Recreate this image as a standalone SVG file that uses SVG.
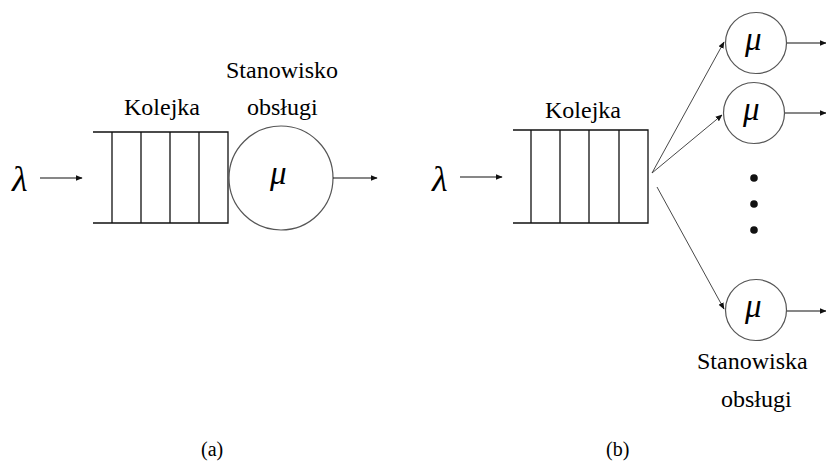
<svg xmlns="http://www.w3.org/2000/svg" width="826" height="463" viewBox="0 0 826 463" font-family="Liberation Serif, serif">
<defs>
<marker id="ah" viewBox="0 0 10 10" refX="9" refY="5" markerWidth="7" markerHeight="7" markerUnits="userSpaceOnUse" orient="auto">
<path d="M0,1 L10,5 L0,9 z" fill="#111"/>
</marker>
</defs>

<g id="part-a">
<g id="lambda-a"><text font-family="Liberation Serif, serif" font-style="italic" font-size="36" x="12" y="191">λ</text></g>
<g id="queue-a">
<path stroke="#111" stroke-width="1.3" fill="none" d="M93,132 H228 V223 H93 M112,132 V223 M141,132 V223 M170,132 V223 M199,132 V223"/>
<text font-family="Liberation Serif, serif" font-size="24" x="124" y="115">Kolejka</text>
</g>
<g id="server-a">
<circle stroke="#555" stroke-width="1.2" fill="#fff" cx="281" cy="178" r="52"/>
<text font-family="Liberation Serif, serif" font-style="italic" font-size="33" x="270" y="184">μ</text>
<text font-family="Liberation Serif, serif" font-size="24" x="226" y="78">Stanowisko</text>
<text font-family="Liberation Serif, serif" font-size="24" x="247" y="115">obsługi</text>
</g>
<g id="caption-a"><text font-family="Liberation Serif, serif" font-size="20" x="201" y="456">(a)</text></g>
</g>

<g id="part-b">
<g id="lambda-b"><text font-family="Liberation Serif, serif" font-style="italic" font-size="36" x="432" y="191">λ</text></g>
<g id="queue-b">
<path stroke="#111" stroke-width="1.3" fill="none" d="M513,130 H648 V223 H513 M531,130 V223 M560,130 V223 M589,130 V223 M619,130 V223"/>
<text font-family="Liberation Serif, serif" font-size="24" x="545" y="118">Kolejka</text>
</g>
<g id="server-b1">
<circle stroke="#555" stroke-width="1.2" fill="#fff" cx="756" cy="43" r="30.5"/>
<text font-family="Liberation Serif, serif" font-style="italic" font-size="33" x="745" y="50">μ</text>
</g>
<g id="server-b2">
<circle stroke="#555" stroke-width="1.2" fill="#fff" cx="754" cy="113" r="30.5"/>
<text font-family="Liberation Serif, serif" font-style="italic" font-size="33" x="743" y="120">μ</text>
</g>
<g id="dots" fill="#111">
<circle cx="754" cy="178" r="3.8"/>
<circle cx="754" cy="204" r="3.8"/>
<circle cx="754" cy="230" r="3.8"/>
</g>
<g id="server-b3">
<circle stroke="#555" stroke-width="1.2" fill="#fff" cx="756" cy="310" r="30.5"/>
<text font-family="Liberation Serif, serif" font-style="italic" font-size="33" x="745" y="317">μ</text>
<text font-family="Liberation Serif, serif" font-size="24" x="697" y="369">Stanowiska</text>
<text font-family="Liberation Serif, serif" font-size="24" x="721" y="407">obsługi</text>
</g>
<g id="caption-b"><text font-family="Liberation Serif, serif" font-size="20" x="606" y="456">(b)</text></g>
</g>

<g id="connectors" fill="none" stroke="#111" stroke-width="1.1" marker-end="url(#ah)">
<line x1="40" y1="178" x2="82" y2="178"/>
<line x1="333" y1="178" x2="377" y2="178"/>
<line x1="460" y1="177" x2="502" y2="177"/>
<line stroke="#333" stroke-width="0.9" x1="652" y1="173" x2="724" y2="42"/>
<line stroke="#333" stroke-width="0.9" x1="652" y1="173" x2="722" y2="115"/>
<line stroke="#333" stroke-width="0.9" x1="657" y1="187" x2="724" y2="309"/>
<line x1="787" y1="43" x2="826" y2="43"/>
<line x1="785" y1="113" x2="826" y2="113"/>
<line x1="787" y1="311" x2="826" y2="311"/>
</g>
</svg>
